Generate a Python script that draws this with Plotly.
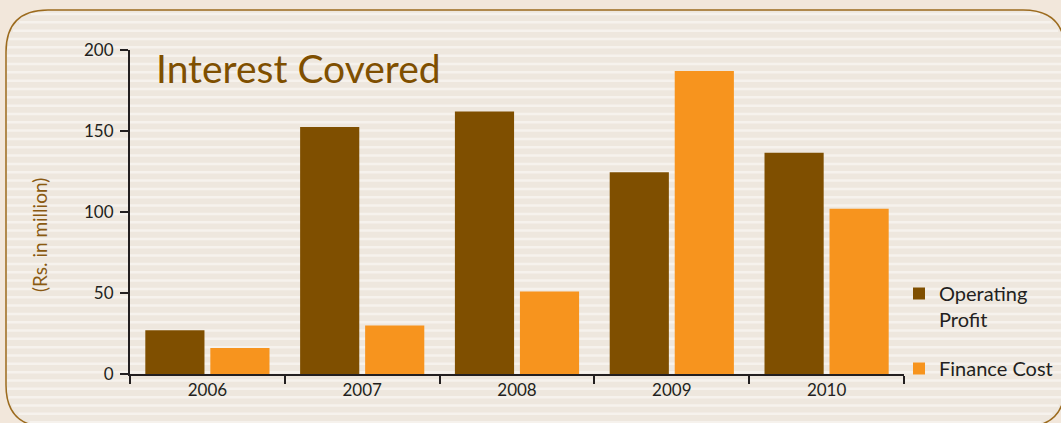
import plotly.graph_objects as go
import math

years = ["2006", "2007", "2008", "2009", "2010"]
operating_profit = [27, 152.5, 162, 124.5, 136.5]
finance_cost = [16, 30, 51, 187, 102]
y_ticks = [0, 50, 100, 150, 200]

W, H = 1061, 423
L, R, T, B = 130, 157, 50, 49
PW, PH = W - L - R, H - T - B

def px(x):
    return (x - L) / PW

def py(y):
    return (H - B - y) / PH

FONT = "Lato"
BROWN = "#7f4f00"
ORANGE = "#f7941e"
DARK = "#231f20"
PAGE = "#f2e7db"

fig = go.Figure()
fig.add_trace(go.Bar(x=years, y=operating_profit, name="Operating<br>Profit",
                     marker=dict(color=BROWN, line=dict(width=0)), legend="legend"))
fig.add_trace(go.Bar(x=years, y=finance_cost, name="Finance Cost",
                     marker=dict(color=ORANGE, line=dict(width=0)), legend="legend2"))

# rounded panel
x0, y0, x1, y1, r = 6, 10, 1065, 427, 42
def P(x, y):
    return f"{px(x):.5f},{py(y):.5f}"
panel = (f"M {P(x0 + r, y0)} L {P(x1 - r, y0)} Q {P(x1, y0)} {P(x1, y0 + r)} "
         f"L {P(x1, y1 - r)} Q {P(x1, y1)} {P(x1 - r, y1)} L {P(x0 + r, y1)} "
         f"Q {P(x0, y1)} {P(x0, y1 - r)} L {P(x0, y0 + r)} Q {P(x0, y0)} {P(x0 + r, y0)} Z")

# stripes
segs = []
yy = 14.0
while yy < H:
    if yy < y0 + r:
        d = y0 + r - yy
        off = r - math.sqrt(max(r * r - d * d, 0))
    elif yy > y1 - r:
        d = yy - (y1 - r)
        off = r - math.sqrt(max(r * r - d * d, 0))
    else:
        off = 0
    segs.append(f"M {P(x0 + off + 1, yy)} L {P(x1 - off - 1, yy)}")
    yy += 8.33
stripes = " ".join(segs)

shapes = [
    dict(type="path", xref="paper", yref="paper", path=panel, fillcolor="#eee7de",
         line=dict(width=0), layer="below"),
    dict(type="path", xref="paper", yref="paper", path=stripes,
         line=dict(color="#f6f2ed", width=2.5), layer="below"),
    dict(type="path", xref="paper", yref="paper", path=panel, fillcolor="rgba(0,0,0,0)",
         line=dict(color="#9c6b1e", width=1.5), layer="below"),
]

fig.update_layout(
    width=W, height=H,
    margin=dict(l=L, r=R, t=T, b=B, pad=0, autoexpand=False),
    paper_bgcolor=PAGE,
    plot_bgcolor="rgba(0,0,0,0)",
    barmode="group",
    bargap=0.16,
    bargroupgap=0.09,
    shapes=shapes,
    font=dict(family=FONT, color=DARK),
    showlegend=True,
    legend=dict(xref="container", yref="container", x=899 / W, y=1 - 274 / H,
                xanchor="left", yanchor="top", valign="top",
                bgcolor="rgba(0,0,0,0)", font=dict(size=20, color=DARK),
                itemwidth=30, tracegroupgap=0),
    legend2=dict(xref="container", yref="container", x=899 / W, y=1 - 349 / H,
                 xanchor="left", yanchor="top", valign="top",
                 bgcolor="rgba(0,0,0,0)", font=dict(size=20, color=DARK),
                 itemwidth=30),
    xaxis=dict(type="category", range=[-0.5, 4.5], showline=True, linewidth=2,
               linecolor=DARK, ticks="outside", tickson="boundaries", ticklen=8,
               tickwidth=2, tickcolor=DARK, showgrid=False, zeroline=False,
               automargin=False,
               tickfont=dict(size=17, color=DARK, family=FONT)),
    yaxis=dict(range=[0, 200], tickvals=y_ticks, showline=True, linewidth=2,
               linecolor=DARK, ticks="outside", ticklen=8, tickwidth=2,
               tickcolor=DARK, showgrid=False, zeroline=False, automargin=False,
               ticklabelstandoff=3,
               tickfont=dict(size=17, color=DARK, family=FONT)),
    annotations=[
        dict(text="Interest Covered", xref="paper", yref="paper", x=px(154), y=py(68),
             xanchor="left", yanchor="middle", showarrow=False,
             font=dict(size=39, color=BROWN, family=FONT, weight=400)),
        dict(text="(Rs. in million)", xref="paper", yref="paper", x=px(39), y=py(235),
             xanchor="center", yanchor="middle", textangle=-90, showarrow=False,
             font=dict(size=19, color="#8a5a12", family=FONT)),
    ],
)

fig.write_html("out.html", config={"displayModeBar": False}, post_script=(
    "document.body.style.margin='0';"
    "document.body.style.padding='0';"
    "document.body.style.background='" + PAGE + "';"
))
